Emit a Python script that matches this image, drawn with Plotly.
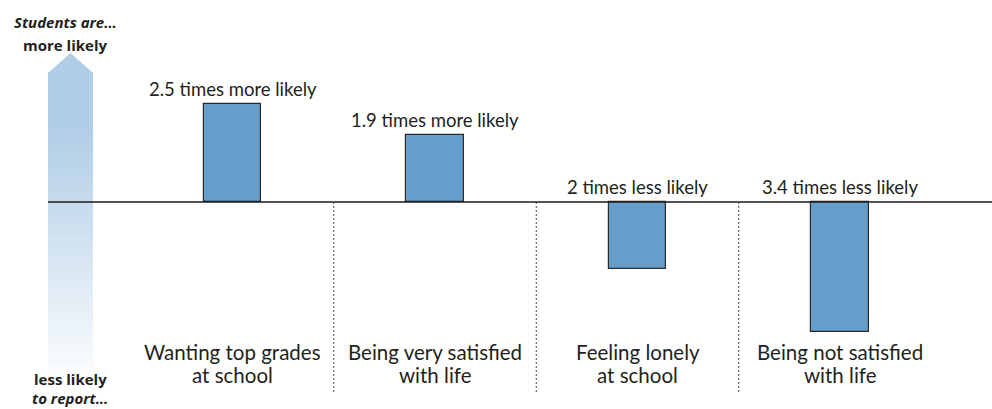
import plotly.graph_objects as go

# ---- data ----
cat_line1 = ["Wanting top grades", "Being very satisfied", "Feeling lonely", "Being not satisfied"]
cat_line2 = ["at school", "with life", "at school", "with life"]
# bar heights (log-ratio scale; positive = more likely)
values = [0.93, 0.64, -0.64, -1.235]
value_labels = ["2.5 times more likely", "1.9 times more likely",
                "2 times less likely", "3.4 times less likely"]

W, H = 992, 409
FONT = "Lato"
TXT = "#231f20"
x_pos = list(range(len(values)))
ppu_x = 202.5
ppu_y = 105
BASE = 202

fig = go.Figure()
fig.add_trace(go.Bar(
    x=x_pos, y=values, width=0.286,
    marker=dict(color="#669ecb", line=dict(color="#2a2a2a", width=1.2)),
    hoverinfo="skip", showlegend=False,
))

def px(xp, yp):
    return xp / W, 1 - yp / H

def ydat(yp):
    return (BASE - yp) / ppu_y

shapes = []
# arrow (decoration) with gradient made of strips
arrow_l, arrow_r = 48, 93
tip_y, shoulder_y, bottom_y = 53, 72, 378
top_col = (176, 205, 230)
x0, _ = px(arrow_l, shoulder_y)
x1, _ = px(arrow_r, shoulder_y)
xm, yt = px((arrow_l + arrow_r) / 2, tip_y)
_, ys = px(0, shoulder_y + 1)
shapes.append(dict(type="path", xref="paper", yref="paper",
                   path=f"M {x0},{ys} L {xm},{yt} L {x1},{ys} Z",
                   fillcolor="rgb(176,205,230)", line=dict(width=0), layer="below"))
n = 80
grad_start = 120
for i in range(n):
    ya = shoulder_y + (bottom_y - shoulder_y) * i / n
    yb = shoulder_y + (bottom_y - shoulder_y) * (i + 1) / n + 0.6
    mid = (ya + yb) / 2
    t = 0 if mid < grad_start else (mid - grad_start) / (bottom_y - grad_start)
    t = min(1, t) ** 1.1
    c = tuple(int(round(top_col[k] + (255 - top_col[k]) * t * 0.97)) for k in range(3))
    xa, yA = px(arrow_l, ya)
    xb, yB = px(arrow_r, yb)
    shapes.append(dict(type="rect", xref="paper", yref="paper", x0=xa, x1=xb, y0=yB, y1=yA,
                       fillcolor=f"rgb{c}", line=dict(width=0), layer="below"))

# baseline
shapes.append(dict(type="line", xref="paper", yref="y", x0=48 / W, x1=1, y0=0, y1=0,
                   line=dict(color="#1a1a1a", width=1.5)))
# dotted separators
for i in range(len(values) - 1):
    shapes.append(dict(type="line", xref="x", yref="y", x0=i + 0.5, x1=i + 0.5,
                       y0=0, y1=ydat(394), line=dict(color="#444", width=1, dash="2px,2px")))

annotations = []
for i, (v, lab) in enumerate(zip(values, value_labels)):
    annotations.append(dict(x=i, y=max(v, 0), text=lab, showarrow=False, yanchor="bottom",
                            yshift=2, font=dict(family=FONT, size=18.5, color=TXT)))
    annotations.append(dict(x=i, y=ydat(352), text=cat_line1[i], showarrow=False, yanchor="middle",
                            font=dict(family=FONT, size=20.5, color=TXT)))
    annotations.append(dict(x=i, y=ydat(375), text=cat_line2[i], showarrow=False, yanchor="middle",
                            font=dict(family=FONT, size=20.5, color=TXT)))

side = [("<i>Students are…</i>", 65, 22), ("more likely", 65, 45),
        ("less likely", 70, 379), ("<i>to report…</i>", 70, 398)]
for t, xx, yy in side:
    ax, ay = px(xx, yy)
    annotations.append(dict(xref="paper", yref="paper", x=ax, y=ay, text=f"<b>{t}</b>",
                            showarrow=False, xanchor="center", yanchor="middle",
                            font=dict(family="Open Sans", size=15, color=TXT)))

fig.update_layout(
    width=W, height=H, margin=dict(l=0, r=0, t=0, b=0, pad=0),
    paper_bgcolor="white", plot_bgcolor="white",
    xaxis=dict(range=[-232.5 / ppu_x, (W - 232.5) / ppu_x], visible=False, fixedrange=True),
    yaxis=dict(range=[-(H - BASE) / ppu_y, BASE / ppu_y], visible=False, fixedrange=True),
    shapes=shapes, annotations=annotations, bargap=0,
)
fig.write_html("out.html", config={"displayModeBar": False},
               post_script="document.body.style.margin='0';document.body.style.overflow='hidden';")
